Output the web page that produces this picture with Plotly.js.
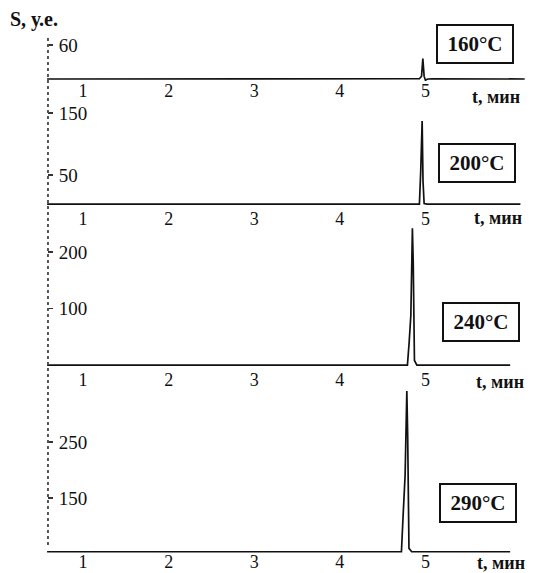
<!DOCTYPE html>
<html>
<head>
<meta charset="utf-8">
<script src="https://cdn.plot.ly/plotly-3.0.1.min.js"></script>
<style>html,body{margin:0;padding:0;background:#fff;}#chart{width:535px;height:573px;}</style>
</head>
<body>
<div id="chart"></div>
<script>
// Temperature labels of the four chromatograms
const temps = ["160°C", "200°C", "240°C", "290°C"];
// Time (min) and signal (S, arb. units)
const t160 = [0.58, 1.5, 2.5, 3.5, 4.5, 4.93, 4.955, 4.97, 4.985, 5.0, 5.03, 5.08, 6.16];
const s160 = [0, 0, 0.5, 0, 0.5, 0.5, 5, 36, 5, -2, 0, 0.5, 0];
const t200 = [0.58, 1.5, 2.5, 3.5, 4.5, 4.93, 4.945, 4.953, 4.962, 4.972, 4.985, 5.02, 6.11];
const s200 = [3, 3, 3.5, 3, 3, 3, 55, 102, 137, 40, 4, 3, 3];
const t240 = [0.58, 1.5, 2.5, 3.5, 4.5, 4.79, 4.81, 4.83, 4.848, 4.858, 4.872, 4.90, 5.99];
const s240 = [0, 0, 1, 0, 0, 0, 40, 88, 242, 180, 8, 0, 0];
const t290 = [0.58, 1.5, 2.5, 3.5, 4.5, 4.72, 4.74, 4.763, 4.783, 4.793, 4.808, 4.84, 5.99];
const s290 = [54, 54, 55, 54, 54, 54, 120, 191, 341, 260, 60, 54, 54];
// Tick values
const xTicks = [1, 2, 3, 4, 5];
const yTicks1 = [60];
const yTicks2 = [50, 150];
const yTicks3 = [100, 200];
const yTicks4 = [150, 250];
const yLabel = "S, у.е.";
const xLabel = "t, мин";

const FONT = "Liberation Serif";
const lineStyle = {color: "#111", width: 1.7};
const ts = [t160, t200, t240, t290];
const ss = [s160, s200, s240, s290];
const traces = ts.map((t, i) => ({
  x: t, y: ss[i], type: "scatter", mode: "lines", line: lineStyle,
  xaxis: i === 0 ? "x" : "x" + (i + 1), yaxis: i === 0 ? "y" : "y" + (i + 1),
  hoverinfo: "skip", showlegend: false
}));

const domains = [[0.8716, 0.9675], [0.6456, 0.8373], [0.3544, 0.6130], [0.0163, 0.3165]];
const ranges = [[-3.5, 90], [0, 171], [-3.5, 249.6], [50, 346.4]];
const yTickSets = [yTicks1, yTicks2, yTicks3, yTicks4];
const xRange = [0.579, 6.222];
const xStandoff = [-3, 0, 0, -5];

const layout = {
  width: 535, height: 573,
  margin: {l: 47, r: 5, t: 10, b: 10},
  paper_bgcolor: "#fff", plot_bgcolor: "rgba(0,0,0,0)",
  font: {family: FONT, color: "#111"},
  showlegend: false,
  annotations: [],
  shapes: [{
    type: "line", xref: "paper", yref: "paper", x0: 0.002, x1: 0.002, y0: 0.0325, y1: 0.95,
    line: {color: "#555", width: 2, dash: "dot"}
  }]
};

for (let i = 0; i < 4; i++) {
  const sx = i === 0 ? "" : String(i + 1);
  layout["xaxis" + sx] = {
    range: xRange, anchor: "y" + sx, domain: [0, 1],
    tickvals: xTicks, ticktext: xTicks.map(String),
    showline: false, showgrid: false, zeroline: false,
    ticks: "", ticklabelstandoff: xStandoff[i],
    tickfont: {family: FONT, size: 18, color: "#111"}, fixedrange: true
  };
  layout["yaxis" + sx] = {
    range: ranges[i], domain: domains[i], anchor: "free", position: 0, side: "right",
    tickvals: yTickSets[i], ticktext: yTickSets[i].map(String),
    showline: false, showgrid: false, zeroline: false,
    ticks: "outside", ticklen: 5, tickcolor: "#333", tickwidth: 1.5,
    ticklabelstandoff: 2,
    tickfont: {family: FONT, size: 19, color: "#111"}, fixedrange: true
  };
}

// Temperature boxes
const boxPos = [[0.886, 0.9385], [0.890, 0.7233], [0.8986, 0.4358], [0.8923, 0.1085]];
temps.forEach((txt, i) => {
  layout.annotations.push({
    xref: "paper", yref: "paper", x: boxPos[i][0], y: boxPos[i][1],
    xanchor: "center", yanchor: "middle", showarrow: false,
    text: "<b>" + txt + "</b>", font: {family: FONT, size: 21, color: "#111"},
    bordercolor: "#111", borderwidth: 2, borderpad: 3, width: 68, height: 30, bgcolor: "#fff"
  });
});
// x axis labels
const xlPos = [[0.8758, 0.8427], [0.8799, 0.6239], [0.884, 0.3273], [0.8861, 0.0]];
xlPos.forEach(p => {
  layout.annotations.push({
    xref: "paper", yref: "paper", x: p[0], y: p[1], xanchor: "left", yanchor: "middle",
    showarrow: false, text: "<b>" + xLabel + "</b>", font: {family: FONT, size: 18, color: "#111"}
  });
});
// y label
layout.annotations.push({
  xref: "paper", yref: "paper", x: -0.08, y: 0.982, xanchor: "left", yanchor: "middle",
  showarrow: false, text: "<b>" + yLabel + "</b>", font: {family: FONT, size: 20, color: "#111"}
});

Plotly.newPlot("chart", traces, layout, {staticPlot: true, displayModeBar: false});
</script>
</body>
</html>
